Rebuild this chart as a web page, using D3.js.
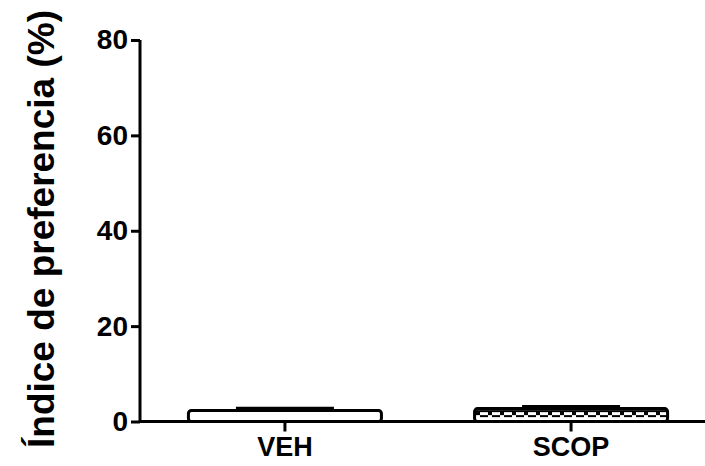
<!DOCTYPE html>
<html><head><meta charset="utf-8">
<script src="https://cdn.jsdelivr.net/npm/d3@7/dist/d3.min.js"></script>
<style>html,body{margin:0;padding:0;background:#fff;}svg{display:block;}</style>
</head><body><svg id="c" width="705" height="466"></svg>
<script>
const categories = ["VEH", "SCOP"];
const means = [2.3, 2.7];
const sems = [0.4, 0.4];
const yTicks = [0, 20, 40, 60, 80];
const yTitle = "Índice de preferencia (%)";

const svg = d3.select("#c");
const font = "'Liberation Sans', Arial, sans-serif";

const x = d3.scaleBand().domain(categories).range([140, 716]).paddingInner(0.315).paddingOuter(0.164);
const y = d3.scaleLinear().domain([0, 80]).range([421.5, 40]);

const defs = svg.append("defs");
const pat = defs.append("pattern").attr("id", "dash").attr("patternUnits", "userSpaceOnUse")
  .attr("width", 12).attr("height", 12).attr("x", 0).attr("y", y(means[1]) + 1.5);
pat.append("rect").attr("width", 12).attr("height", 12).attr("fill", "#fff");
pat.append("rect").attr("x", 0).attr("y", 0).attr("width", 12).attr("height", 2).attr("fill", "#000");
pat.append("rect").attr("x", 8).attr("y", 2).attr("width", 4).attr("height", 3).attr("fill", "#000");
pat.append("rect").attr("x", 0).attr("y", 5).attr("width", 8).attr("height", 2).attr("fill", "#000");

const fills = ["#fff", "url(#dash)"];

// bars
svg.selectAll("rect.bar").data(categories).enter().append("rect")
  .attr("class", "bar")
  .attr("x", d => x(d) + 1.5)
  .attr("width", x.bandwidth() - 3)
  .attr("y", (d, i) => y(means[i]))
  .attr("height", (d, i) => y(0) - y(means[i]))
  .attr("fill", (d, i) => fills[i])
  .attr("stroke", "#000").attr("stroke-width", 3).attr("rx", 3);

// error bars
const capW = x.bandwidth() * 0.5;
categories.forEach((d, i) => {
  const cx = x(d) + x.bandwidth() / 2;
  svg.append("line").attr("x1", cx).attr("x2", cx)
    .attr("y1", y(means[i])).attr("y2", y(means[i] + sems[i]))
    .attr("stroke", "#000").attr("stroke-width", 3);
  svg.append("line").attr("x1", cx - capW / 2).attr("x2", cx + capW / 2)
    .attr("y1", y(means[i] + sems[i])).attr("y2", y(means[i] + sems[i]))
    .attr("stroke", "#000").attr("stroke-width", 3.5);
});

// y axis
const yAxis = svg.append("g").attr("transform", "translate(140,0)")
  .call(d3.axisLeft(y).tickValues(yTicks).tickSize(9).tickPadding(3));
yAxis.select(".domain").attr("d", `M0,${y(80)}V${y(0)}`).attr("stroke-width", 3);
yAxis.selectAll(".tick line").attr("stroke-width", 3);
yAxis.selectAll(".tick text").attr("font-family", font).attr("font-weight", "bold")
  .attr("font-size", 28).attr("fill", "#000");

// x axis
const xAxis = svg.append("g").attr("transform", `translate(0,${y(0)})`)
  .call(d3.axisBottom(x).tickSize(10).tickPadding(5));
xAxis.select(".domain").attr("d", "M140,0H705").attr("stroke-width", 3);
xAxis.selectAll(".tick line").attr("stroke-width", 3);
xAxis.selectAll(".tick text").attr("font-family", font).attr("font-weight", "bold")
  .attr("font-size", 27).attr("fill", "#000");

// y title
svg.append("text").attr("transform", "translate(54,229) rotate(-90)")
  .attr("text-anchor", "middle").attr("font-family", font).attr("font-weight", "bold")
  .attr("font-size", 37).attr("fill", "#000").text(yTitle);
</script></body></html>
